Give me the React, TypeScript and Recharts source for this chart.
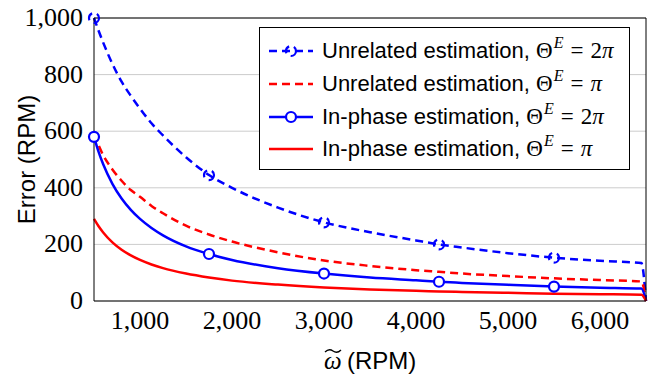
import { LineChart, Line, XAxis, YAxis, CartesianGrid, Legend, Label } from "recharts";

const rpm = [500, 550, 600, 700, 800, 900, 1000, 1125, 1250, 1500, 1750, 2000, 2500, 3000, 3500, 4000, 4250, 4500, 5000, 5500, 6000, 6450, 6500];
const unrelated2pi = [1000, 955, 913, 838, 775, 725, 680, 628, 585, 508, 445, 400, 330, 278, 243, 214, 200, 189, 169, 153, 142, 134, 0];
const unrelatedPi = [590, 550, 515, 465, 425, 392, 368, 336, 310, 266, 235, 210, 172, 143, 124, 109, 103, 97, 88, 80, 74, 69, 0];
const inPhase2pi = [580, 527, 483, 414, 362, 322, 290, 258, 232, 193, 166, 145, 116, 97, 83, 73, 68, 64, 57, 51, 47, 44, 0];
const inPhasePi = [290, 264, 242, 207, 181, 161, 145, 129, 116, 97, 83, 72, 58, 48, 41, 36, 34, 32, 29, 26, 24, 22, 0];

const markerRpm = [500, 1750, 3000, 4250, 5500];
const xTicks = [1000, 2000, 3000, 4000, 5000, 6000];
const yTicks = [0, 200, 400, 600, 800, 1000];

const seriesNames = ["Unrelated estimation", "Unrelated estimation", "In-phase estimation", "In-phase estimation"];
const piFactor = ["2", "", "2", ""];

const BLUE = "#0000ff";
const RED = "#ff0000";
const DASH = "8 5";
const SERIF = "'Liberation Serif', 'DejaVu Serif', serif";
const SANS = "'Liberation Sans', Arial, sans-serif";

const data = rpm.map((x, i) => ({
  x,
  u2: unrelated2pi[i],
  u1: unrelatedPi[i],
  p2: inPhase2pi[i],
  p1: inPhasePi[i],
}));

const fmt = (v: number) => v.toLocaleString("en-US");

const makeDot = (dashed: boolean) => (props: any) => {
  const { cx, cy, payload, index } = props;
  if (!markerRpm.includes(payload.x)) return <g key={`n${index}`} />;
  return (
    <circle
      key={`m${index}`}
      cx={cx}
      cy={cy}
      r={5}
      fill={dashed ? "none" : "#fff"}
      stroke={BLUE}
      strokeWidth={2.2}
      strokeDasharray={dashed ? DASH : undefined}
    />
  );
};

function XTick(props: any) {
  const { x, y, payload } = props;
  return (
    <text x={x} y={y + 18} textAnchor="middle" style={{ fontFamily: SERIF }} fontSize={26} fill="#000">
      {fmt(payload.value)}
    </text>
  );
}

function YTick(props: any) {
  const { x, y, payload } = props;
  return (
    <text x={x} y={y + 8} textAnchor="end" style={{ fontFamily: SERIF }} fontSize={26} fill="#000">
      {fmt(payload.value)}
    </text>
  );
}

function YLabel(props: any) {
  const vb = props.viewBox;
  const cy = vb.y + vb.height / 2;
  return (
    <text x={35} y={cy} transform={`rotate(-90 35 ${cy})`} textAnchor="middle" style={{ fontFamily: SANS }} fontSize={24} fill="#000">
      Error (RPM)
    </text>
  );
}

function XLabel(props: any) {
  const vb = props.viewBox;
  const cx = vb.x + vb.width / 2;
  const base = vb.y + 68;
  const tx = cx - 45;
  return (
    <g>
      <path
        d={`M${tx},${base - 17} q4,-4 8,-1 t8,-1`}
        stroke="#000"
        strokeWidth={1.3}
        fill="none"
      />
      <text x={tx - 1} y={base} fill="#000">
        <tspan style={{ fontFamily: SERIF }} fontStyle="italic" fontSize={25}>ω</tspan>
        <tspan style={{ fontFamily: SANS }} fontSize={24} x={cx - 23}>(RPM)</tspan>
      </text>
    </g>
  );
}

function LegendIcon({ i }: { i: number }) {
  const color = i % 2 === 0 ? BLUE : RED;
  const dashed = i < 2;
  return (
    <svg width={46} height={20} style={{ flex: "none" }}>
      <line x1={1} y1={10} x2={45} y2={10} stroke={color} strokeWidth={2.5} strokeDasharray={dashed ? DASH : undefined} />
      {i % 2 === 0 && (
        <circle cx={23} cy={10} r={5} fill={dashed ? "none" : "#fff"} stroke={BLUE} strokeWidth={2.2} strokeDasharray={dashed ? DASH : undefined} />
      )}
    </svg>
  );
}

function renderLegend() {
  return (
    <div
      style={{
        border: "1px solid #000",
        background: "#fff",
        boxSizing: "border-box",
        height: 143,
        padding: "7px 8px 5px",
        fontFamily: SANS,
        fontSize: 22,
        color: "#000",
      }}
    >
      {seriesNames.map((name, i) => (
        <div key={i} style={{ display: "flex", alignItems: "center", height: 32.7, whiteSpace: "nowrap" }}>
          <LegendIcon i={i} />
          <span style={{ marginLeft: 8 }}>
            {name},{" "}
            <span style={{ fontFamily: SERIF, fontSize: 23 }}>
              Θ
              <span style={{ fontStyle: "italic", fontSize: 16, position: "relative", top: -10, lineHeight: 0, marginLeft: 1 }}>E</span>
              <span style={{ margin: "0 7px" }}>=</span>
              {piFactor[i]}
              <i>π</i>
            </span>
          </span>
        </div>
      ))}
    </div>
  );
}

export default function App() {
  return (
    <div>
      <style>{"body{margin:0}"}</style>
      <LineChart width={667} height={377} data={data} margin={{ top: 18, right: 21, bottom: 0, left: 0 }}>
        <CartesianGrid vertical={false} stroke="#cccccc" strokeWidth={1} />
        <XAxis
          dataKey="x"
          type="number"
          domain={[500, 6500]}
          ticks={xTicks}
          height={76}
          tickSize={0}
          tickMargin={10}
          axisLine={{ stroke: "#000" }}
          tick={XTick}
        >
          <Label content={XLabel} />
        </XAxis>
        <XAxis xAxisId="bm" dataKey="x" type="number" domain={[500, 6500]} ticks={xTicks} orientation="bottom" mirror height={1} tick={false} tickSize={5} tickLine={{ stroke: "#999" }} axisLine={false} />
        <XAxis xAxisId="tm" dataKey="x" type="number" domain={[500, 6500]} ticks={xTicks} orientation="top" mirror height={1} tick={false} tickSize={5} tickLine={{ stroke: "#999" }} axisLine={{ stroke: "#000" }} />
        <YAxis
          type="number"
          domain={[0, 1000]}
          ticks={yTicks}
          width={94}
          tickSize={0}
          tickMargin={11}
          axisLine={{ stroke: "#000" }}
          tick={YTick}
        >
          <Label content={YLabel} />
        </YAxis>
        <YAxis yAxisId="lm" type="number" domain={[0, 1000]} ticks={yTicks} orientation="left" mirror width={1} tick={false} tickSize={5} tickLine={{ stroke: "#999" }} axisLine={false} />
        <YAxis yAxisId="rm" type="number" domain={[0, 1000]} ticks={yTicks} orientation="right" mirror width={1} tick={false} tickSize={5} tickLine={{ stroke: "#999" }} axisLine={{ stroke: "#000" }} />
        <Line dataKey="u2" type="monotone" stroke={BLUE} strokeWidth={2.5} strokeDasharray={DASH} dot={makeDot(true)} activeDot={false} isAnimationActive={false} />
        <Line dataKey="u1" type="monotone" stroke={RED} strokeWidth={2.5} strokeDasharray={DASH} dot={false} activeDot={false} isAnimationActive={false} />
        <Line dataKey="p2" type="monotone" stroke={BLUE} strokeWidth={2.5} dot={makeDot(false)} activeDot={false} isAnimationActive={false} />
        <Line dataKey="p1" type="monotone" stroke={RED} strokeWidth={2.5} dot={false} activeDot={false} isAnimationActive={false} />
        <Legend
          layout="vertical"
          align="center"
          verticalAlign="middle"
          wrapperStyle={{ top: 27, left: 259, width: 371 }}
          content={renderLegend}
        />
      </LineChart>
    </div>
  );
}
